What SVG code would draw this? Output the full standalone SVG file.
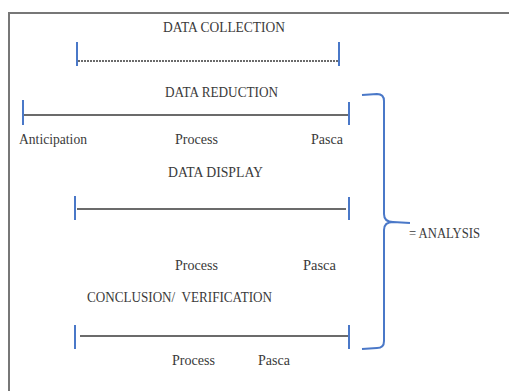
<svg xmlns="http://www.w3.org/2000/svg" width="509" height="391" viewBox="0 0 509 391">
<style>
.t{font-family:"Liberation Serif","DejaVu Serif",serif;font-size:14px;fill:#3a3a3a;white-space:pre;}
.tick{stroke:#4a78c8;stroke-width:2;fill:none;}
.bar{stroke:#6b6b6b;stroke-width:2.2;fill:none;}
.dot{stroke:#6b6b6b;stroke-width:2;stroke-dasharray:2 1;fill:none;}
.frame{stroke:#777;stroke-width:2;fill:none;}
.brace{stroke:#4a78c8;stroke-width:2;fill:none;}
</style>
<rect width="509" height="391" fill="#fff"/>
<path class="frame" d="M9,391 V13 H509"/>
<g id="data-collection">
<text class="t" x="163" y="32" textLength="122" lengthAdjust="spacingAndGlyphs">DATA COLLECTION</text>
<line class="tick" x1="77" y1="42" x2="77" y2="66"/>
<line class="tick" x1="339" y1="42" x2="339" y2="66"/>
</g>
<g id="data-reduction">
<text class="t" x="165" y="97" textLength="113" lengthAdjust="spacingAndGlyphs">DATA REDUCTION</text>
<line class="tick" x1="23" y1="100" x2="23" y2="125"/>
<line class="tick" x1="349" y1="102" x2="349" y2="125"/>
<text class="t" x="19" y="144" textLength="68" lengthAdjust="spacingAndGlyphs">Anticipation</text>
<text class="t" x="175" y="144" textLength="43" lengthAdjust="spacingAndGlyphs">Process</text>
<text class="t" x="311" y="144" textLength="32" lengthAdjust="spacingAndGlyphs">Pasca</text>
</g>
<g id="data-display">
<text class="t" x="168" y="177" textLength="95" lengthAdjust="spacingAndGlyphs">DATA DISPLAY</text>
<line class="tick" x1="75" y1="196" x2="75" y2="220"/>
<line class="tick" x1="349" y1="197" x2="349" y2="220"/>
<text class="t" x="175" y="270" textLength="43" lengthAdjust="spacingAndGlyphs">Process</text>
<text class="t" x="303" y="270" textLength="33" lengthAdjust="spacingAndGlyphs">Pasca</text>
</g>
<g id="conclusion-verification">
<text class="t" x="87" y="302" textLength="185" lengthAdjust="spacingAndGlyphs">CONCLUSION/  VERIFICATION</text>
<line class="tick" x1="75" y1="325" x2="75" y2="349"/>
<line class="tick" x1="349" y1="325" x2="349" y2="349"/>
<text class="t" x="172" y="365" textLength="43" lengthAdjust="spacingAndGlyphs">Process</text>
<text class="t" x="258" y="365" textLength="32" lengthAdjust="spacingAndGlyphs">Pasca</text>
</g>
<g id="analysis">
<path class="brace" d="M362,95 L377,94 Q384,94 384,101 L384,214 Q384,222 393,222 L410,223 M384,230 Q384,222 393,222 M384,230 L384,341 Q384,348 377,348 L362,349"/>
<text class="t" x="409" y="238" textLength="71" lengthAdjust="spacingAndGlyphs">= ANALYSIS</text>
</g>
<g id="connectors">
<line class="dot" x1="78" y1="61" x2="338" y2="61"/>
<line class="bar" x1="24" y1="115" x2="348" y2="115"/>
<line class="bar" x1="77" y1="209" x2="346" y2="209"/>
<line class="bar" x1="80" y1="336" x2="348" y2="336"/>
</g>
</svg>
